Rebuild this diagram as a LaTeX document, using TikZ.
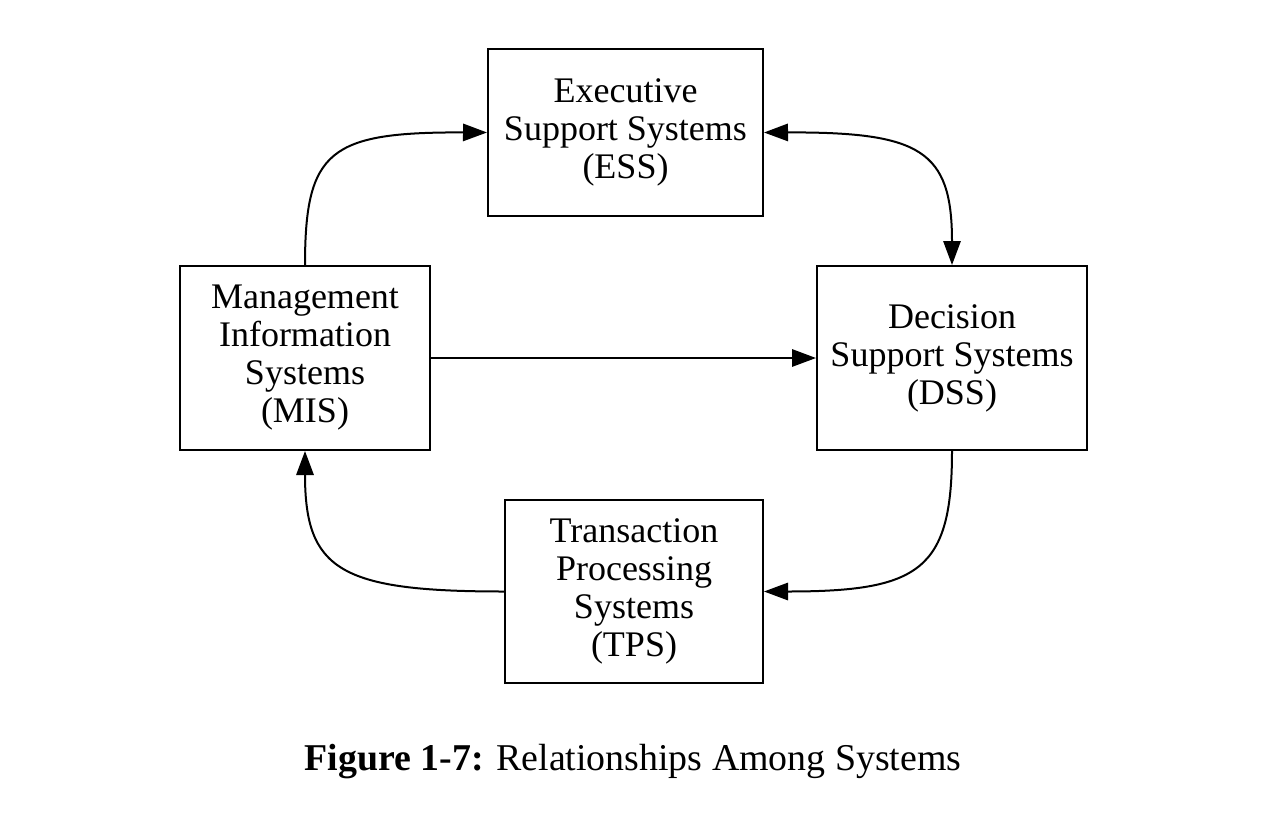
\documentclass[tikz,border=0pt]{standalone}
\usepackage{fontspec}
\setmainfont{Liberation Serif}
\usetikzlibrary{arrows.meta}
\begin{document}
\begin{tikzpicture}[x=0.75pt,y=-0.75pt,
  box/.style={draw,line width=1.5pt,align=center,inner sep=0pt,font=\fontsize{27}{28.5}\selectfont},
  arr/.style={line width=1.5pt,-{Triangle[length=18pt,width=13pt]}},
  barr/.style={line width=1.5pt,{Triangle[length=18pt,width=13pt]}-{Triangle[length=18pt,width=13pt]}}]
\useasboundingbox (0,0) rectangle (1274,832);
\node[box,minimum width=275*0.75pt,minimum height=167*0.75pt] (ess) at (625.5,132.5) {Executive\\Support Systems\\(ESS)};
\node[box,minimum width=250*0.75pt,minimum height=184*0.75pt] (mis) at (305,358) {Management\\Information\\Systems\\(MIS)};
\node[box,minimum width=270*0.75pt,minimum height=184*0.75pt] (dss) at (952,358) {Decision\\Support Systems\\(DSS)};
\node[box,minimum width=258*0.75pt,minimum height=183*0.75pt] (tps) at (634,591.5) {Transaction\\Processing\\Systems\\(TPS)};
\node[font=\fontsize{28.4}{30}\selectfont] (cap) at (633,762) {\textbf{Figure 1-7:} Relationships Among Systems};
\draw[arr] (mis.north) .. controls (305,150) and (330,132) .. (ess.west);
\draw[barr] (ess.east) .. controls (920,132) and (952,150) .. (dss.north);
\draw[arr] (mis.east) -- (dss.west);
\draw[arr] (dss.south) .. controls (952,570) and (920,591.5) .. (tps.east);
\draw[arr] (tps.west) .. controls (340,591.5) and (305,570) .. (mis.south);
\end{tikzpicture}
\end{document}
